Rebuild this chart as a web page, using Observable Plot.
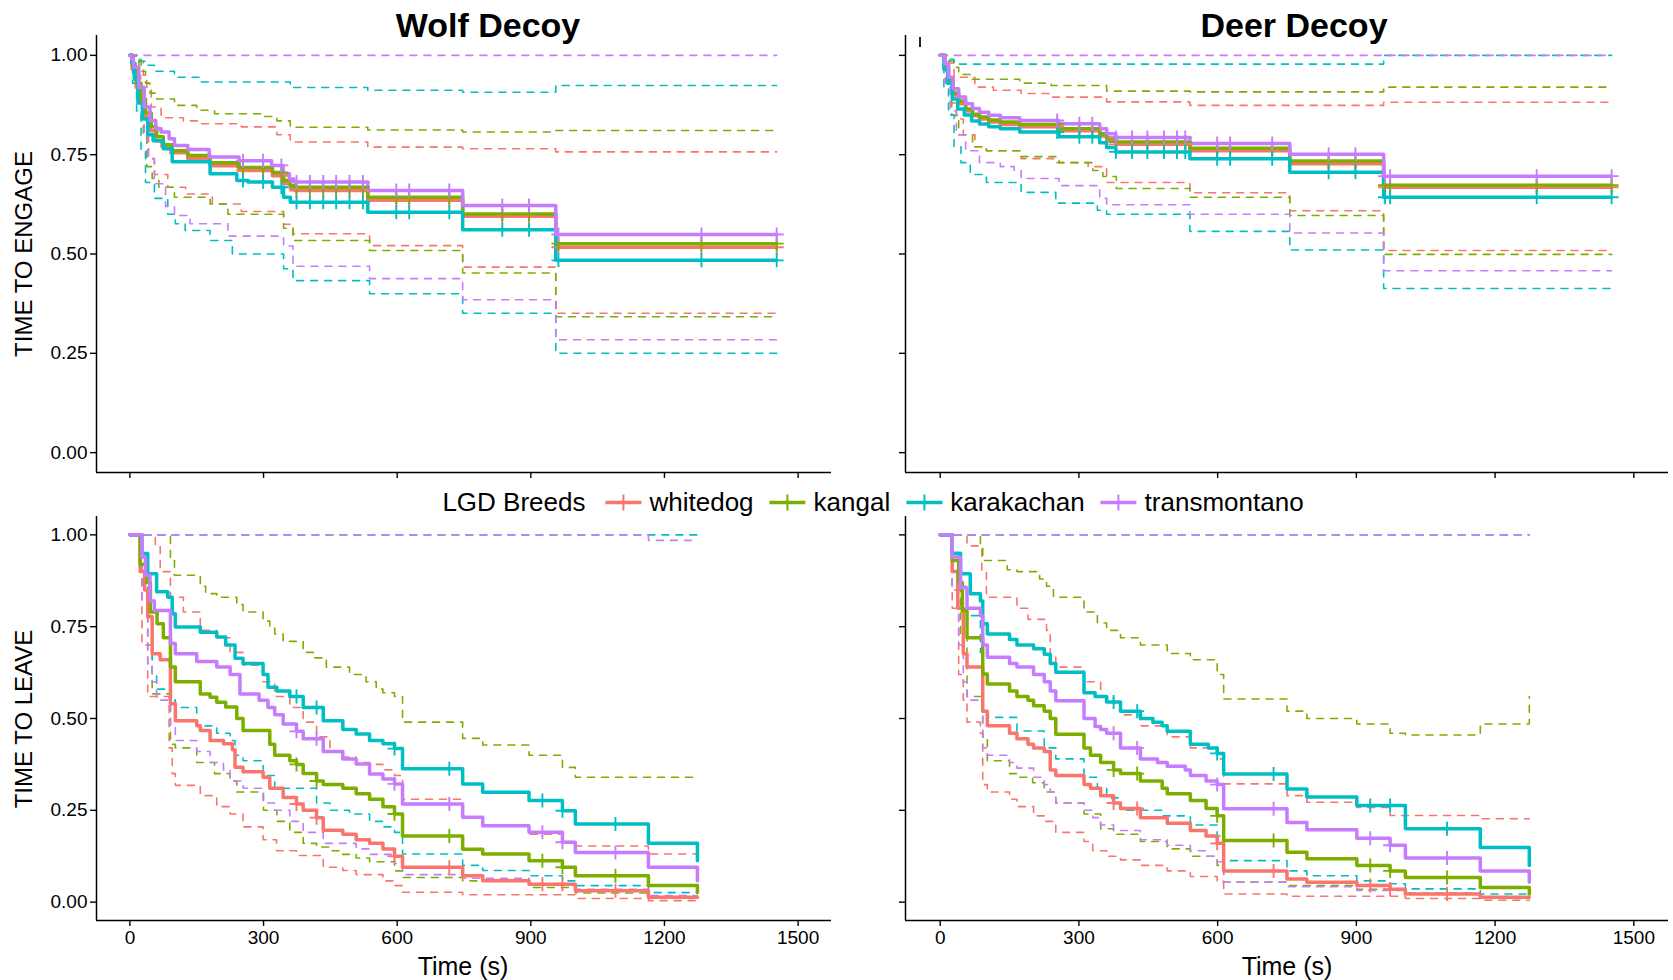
<!DOCTYPE html>
<html><head><meta charset="utf-8">
<script src="https://cdn.jsdelivr.net/npm/d3@7"></script>
<script src="https://cdn.jsdelivr.net/npm/@observablehq/plot@0.6"></script>
<style>
body{margin:0;background:#fff;}
#root{position:relative;width:1673px;height:980px;font-family:"Liberation Sans",Arial,sans-serif;color:#000;overflow:hidden;background:#fff;}
.t{position:absolute;transform:translate(-50%,-50%);white-space:nowrap;z-index:5;}
.title{font-weight:bold;font-size:34px;}
.ytitle{font-size:24px;transform:translate(-50%,-50%) rotate(-90deg);}
.xtitle{font-size:25px;}
#legend{position:absolute;left:873px;top:502px;transform:translate(-50%,-50%);display:flex;align-items:center;font-size:26px;white-space:nowrap;z-index:5;}
</style></head>
<body><div id="root"></div>
<script>
// ---------- data ----------
const breeds = ["whitedog","kangal","karakachan","transmontano"];
const breedColors = ["#F8766D","#7CAE00","#00BFC4","#C77CFF"];
const xTicks = [0,300,600,900,1200,1500];
const yTicks = [0,0.25,0.5,0.75,1];
const panelTitles = ["Wolf Decoy","Deer Decoy"];
const rowTitles = ["TIME TO ENGAGE","TIME TO LEAVE"];
const xTitle = "Time (s)";
const legendTitle = "LGD Breeds";
const engageEnd = 1452;
const leaveEnd = 1274;

// Wolf decoy, time to engage
const we_white = [[0,1],[5,0.965],[14,0.92],[24,0.88],[34,0.845],[46,0.81],[58,0.785],[72,0.77],[92,0.755],[130,0.74],[180,0.722],[245,0.71],[320,0.697],[345,0.677],[360,0.665],[370,0.66],[534,0.635],[747,0.595],[956,0.517]];
const we_kangal = [[0,1],[6,0.97],[15,0.93],[25,0.89],[35,0.855],[48,0.82],[60,0.795],[75,0.775],[95,0.76],[130,0.748],[180,0.73],[245,0.718],[320,0.705],[345,0.685],[360,0.672],[370,0.668],[534,0.643],[747,0.601],[956,0.526]];
const we_karak = [[0,1],[4,0.98],[10,0.94],[18,0.88],[28,0.84],[40,0.8],[52,0.785],[75,0.765],[95,0.732],[180,0.702],[240,0.685],[265,0.681],[320,0.668],[345,0.643],[360,0.63],[534,0.605],[747,0.561],[956,0.484]];
const we_trans = [[0,1],[4,0.99],[8,0.97],[20,0.92],[32,0.87],[45,0.836],[58,0.815],[70,0.807],[88,0.79],[100,0.773],[130,0.763],[178,0.744],[245,0.735],[318,0.723],[344,0.702],[358,0.689],[368,0.681],[534,0.66],[747,0.622],[956,0.549]];
const we_white_hi = [[0,1],[20,0.985],[30,0.95],[38,0.915],[48,0.87],[70,0.843],[120,0.835],[160,0.828],[250,0.82],[330,0.8],[360,0.782],[534,0.769],[747,0.765],[956,0.757]];
const we_kangal_hi = [[0,1],[15,0.99],[25,0.96],[35,0.93],[45,0.905],[60,0.89],[100,0.874],[150,0.862],[190,0.853],[300,0.846],[330,0.835],[360,0.819],[534,0.812],[747,0.807],[956,0.811]];
const we_karak_hi = [[0,1],[20,0.985],[35,0.975],[55,0.96],[100,0.945],[160,0.933],[360,0.919],[534,0.912],[747,0.907],[956,0.924]];
const we_trans_hi = [[0,1]];
const we_white_lo = [[0,1],[14,0.95],[24,0.88],[32,0.8],[42,0.74],[55,0.7],[85,0.668],[125,0.651],[185,0.626],[250,0.607],[345,0.575],[366,0.551],[538,0.521],[747,0.467],[956,0.351]];
const we_kangal_lo = [[0,1],[20,0.9],[30,0.8],[38,0.72],[50,0.69],[65,0.668],[100,0.643],[180,0.626],[220,0.6],[345,0.565],[366,0.534],[538,0.509],[747,0.452],[956,0.342]];
const we_karak_lo = [[0,1],[6,0.93],[15,0.86],[25,0.76],[35,0.68],[55,0.64],[85,0.6],[102,0.576],[124,0.559],[180,0.534],[230,0.5],[345,0.463],[366,0.433],[538,0.4],[747,0.351],[956,0.25]];
const we_trans_lo = [[0,1],[10,0.95],[22,0.88],[32,0.8],[40,0.74],[55,0.677],[80,0.62],[100,0.597],[135,0.576],[220,0.545],[345,0.52],[366,0.469],[538,0.438],[747,0.385],[956,0.284]];
const we_censor = [254,299,340,374,404,434,463,493,523,598,627,717,836,896,962,1283,1452];

// Deer decoy, time to engage
const de_white = [[0,1],[10,0.97],[18,0.935],[28,0.9],[40,0.878],[55,0.86],[70,0.848],[85,0.84],[105,0.832],[130,0.826],[172,0.82],[257,0.81],[345,0.797],[360,0.786],[380,0.776],[540,0.76],[756,0.727],[959,0.668]];
const de_kangal = [[0,1],[10,0.975],[18,0.94],[28,0.905],[40,0.885],[55,0.865],[70,0.852],[85,0.845],[105,0.837],[130,0.832],[172,0.826],[257,0.815],[345,0.803],[360,0.792],[380,0.782],[540,0.766],[756,0.734],[959,0.673]];
const de_karak = [[0,1],[8,0.965],[16,0.93],[26,0.89],[38,0.865],[52,0.85],[68,0.835],[85,0.827],[105,0.82],[130,0.815],[172,0.807],[257,0.795],[345,0.78],[360,0.768],[380,0.757],[540,0.74],[756,0.706],[959,0.643]];
const de_trans = [[0,1],[10,0.979],[18,0.945],[28,0.916],[40,0.895],[55,0.878],[70,0.866],[85,0.857],[105,0.849],[130,0.843],[172,0.836],[257,0.828],[345,0.815],[360,0.803],[380,0.793],[540,0.778],[756,0.751],[959,0.696]];
const de_white_hi = [[0,1],[20,0.98],[30,0.945],[75,0.92],[115,0.912],[175,0.904],[240,0.895],[360,0.883],[540,0.874],[959,0.882]];
const de_kangal_hi = [[0,1],[18,0.985],[30,0.97],[40,0.952],[70,0.94],[172,0.93],[240,0.924],[360,0.91],[540,0.908],[959,0.92]];
const de_karak_hi = [[0,1],[15,0.99],[30,0.978],[959,1]];
const de_trans_hi = [[0,1]];
const de_white_lo = [[0,1],[12,0.93],[22,0.88],[35,0.84],[50,0.8],[75,0.77],[100,0.76],[175,0.74],[245,0.73],[320,0.72],[360,0.68],[540,0.654],[756,0.609],[959,0.509]];
const de_kangal_lo = [[0,1],[15,0.92],[25,0.85],[40,0.8],[70,0.77],[100,0.76],[172,0.745],[257,0.73],[330,0.71],[352,0.695],[381,0.665],[540,0.643],[756,0.597],[959,0.499]];
const de_karak_lo = [[0,1],[8,0.92],[18,0.85],[30,0.77],[45,0.73],[65,0.7],[100,0.68],[175,0.655],[250,0.628],[340,0.61],[360,0.6],[540,0.557],[756,0.51],[959,0.413]];
const de_trans_lo = [[0,1],[10,0.93],[22,0.86],[35,0.8],[55,0.76],[85,0.73],[130,0.72],[160,0.71],[175,0.69],[257,0.672],[345,0.64],[360,0.624],[540,0.6],[756,0.553],[959,0.458]];
const de_censor = [253,301,329,380,415,448,484,512,530,599,627,718,840,898,962,973,1290,1452];

// Wolf decoy, time to leave
const wl_white = [[0,1],[23,0.9],[33,0.85],[40,0.777],[50,0.676],[68,0.66],[91,0.54],[102,0.494],[150,0.48],[158,0.467],[180,0.44],[210,0.431],[230,0.415],[236,0.367],[254,0.355],[299,0.34],[314,0.31],[344,0.285],[374,0.267],[389,0.25],[419,0.23],[434,0.196],[478,0.185],[508,0.17],[538,0.16],[568,0.145],[594,0.125],[612,0.095],[747,0.072],[792,0.058],[896,0.049],[1000,0.031],[1164,0.013]];
const wl_kangal = [[0,1],[23,0.92],[38,0.87],[46,0.79],[61,0.758],[75,0.72],[91,0.64],[102,0.6],[158,0.567],[180,0.558],[195,0.544],[215,0.531],[240,0.5],[254,0.467],[314,0.43],[325,0.4],[359,0.385],[374,0.375],[389,0.35],[419,0.33],[434,0.32],[478,0.31],[508,0.295],[538,0.28],[568,0.26],[594,0.24],[612,0.18],[747,0.144],[792,0.131],[896,0.113],[971,0.095],[1000,0.072],[1164,0.045],[1274,0.026]];
const wl_karak = [[0,1],[27,0.949],[40,0.894],[60,0.845],[85,0.83],[95,0.785],[102,0.749],[158,0.735],[195,0.722],[215,0.7],[236,0.664],[254,0.65],[299,0.62],[310,0.585],[330,0.575],[359,0.56],[389,0.53],[434,0.494],[478,0.47],[508,0.458],[538,0.44],[568,0.431],[594,0.418],[612,0.363],[747,0.322],[792,0.299],[896,0.277],[971,0.249],[1000,0.213],[1164,0.16],[1274,0.113]];
const wl_trans = [[0,1],[27,0.94],[35,0.89],[45,0.82],[55,0.794],[91,0.704],[102,0.676],[150,0.655],[195,0.64],[225,0.62],[247,0.567],[290,0.55],[310,0.53],[325,0.51],[344,0.485],[374,0.465],[389,0.445],[434,0.41],[478,0.39],[508,0.376],[538,0.349],[568,0.335],[594,0.322],[612,0.267],[747,0.231],[792,0.208],[896,0.19],[971,0.163],[1000,0.135],[1164,0.095],[1274,0.058]];
const wl_white_hi = [[0,1],[57,0.97],[68,0.9],[91,0.83],[120,0.79],[158,0.74],[195,0.72],[225,0.68],[254,0.645],[299,0.6],[325,0.56],[359,0.53],[389,0.49],[419,0.45],[449,0.41],[478,0.395],[508,0.38],[538,0.375],[568,0.36],[594,0.345],[612,0.28],[747,0.231],[792,0.208],[896,0.185],[971,0.165],[1000,0.153],[1164,0.131]];
const wl_kangal_hi = [[0,1],[91,0.93],[100,0.89],[158,0.86],[170,0.84],[195,0.83],[240,0.81],[254,0.79],[299,0.765],[314,0.75],[325,0.73],[344,0.71],[389,0.68],[412,0.665],[441,0.64],[493,0.62],[530,0.6],[553,0.58],[568,0.57],[594,0.56],[612,0.49],[747,0.446],[792,0.428],[896,0.4],[971,0.367],[1000,0.34]];
const wl_karak_hi = [[0,1]];
const wl_trans_hi = [[0,1],[1164,0.985]];
const wl_white_lo = [[0,1],[27,0.7],[40,0.56],[88,0.42],[95,0.35],[102,0.318],[158,0.29],[195,0.26],[225,0.24],[254,0.205],[299,0.17],[329,0.14],[374,0.127],[434,0.095],[478,0.086],[508,0.075],[568,0.058],[594,0.045],[612,0.027],[747,0.02],[1000,0.01],[1164,0.004]];
const wl_kangal_lo = [[0,1],[27,0.85],[40,0.7],[50,0.567],[91,0.43],[102,0.42],[150,0.38],[190,0.35],[225,0.33],[240,0.3],[300,0.25],[330,0.22],[359,0.19],[389,0.16],[419,0.15],[449,0.14],[478,0.13],[508,0.12],[538,0.11],[594,0.085],[612,0.067],[747,0.058],[896,0.04],[1000,0.025],[1164,0.012]];
const wl_karak_lo = [[0,1],[27,0.9],[40,0.78],[50,0.62],[60,0.58],[91,0.55],[102,0.53],[150,0.48],[195,0.46],[225,0.44],[236,0.4],[254,0.385],[299,0.345],[325,0.31],[419,0.27],[449,0.25],[493,0.24],[538,0.22],[568,0.205],[594,0.19],[612,0.131],[747,0.1],[792,0.086],[896,0.072],[971,0.058],[1000,0.045],[1164,0.026]];
const wl_trans_lo = [[0,1],[27,0.82],[40,0.65],[50,0.6],[60,0.55],[91,0.48],[102,0.44],[150,0.41],[180,0.38],[210,0.36],[225,0.33],[254,0.31],[299,0.27],[325,0.25],[359,0.22],[389,0.19],[434,0.16],[508,0.145],[538,0.13],[594,0.105],[612,0.075],[747,0.065],[896,0.05],[1000,0.035],[1164,0.018]];
const wl_censor = [374,419,594,717,926,971,1090];

// Deer decoy, time to leave
const dl_white = [[0,1],[26,0.9],[38,0.8],[50,0.676],[58,0.64],[92,0.52],[102,0.48],[150,0.46],[166,0.445],[190,0.43],[202,0.42],[225,0.41],[238,0.36],[250,0.345],[311,0.32],[325,0.31],[347,0.29],[375,0.27],[390,0.255],[433,0.23],[491,0.215],[541,0.195],[575,0.18],[599,0.16],[613,0.085],[750,0.063],[793,0.054],[901,0.045],[973,0.035],[1006,0.022],[1168,0.013]];
const dl_kangal = [[0,1],[26,0.93],[40,0.87],[48,0.794],[58,0.72],[92,0.621],[102,0.594],[150,0.575],[166,0.56],[190,0.55],[202,0.535],[225,0.52],[238,0.5],[250,0.457],[311,0.42],[325,0.4],[347,0.38],[375,0.36],[390,0.35],[433,0.33],[480,0.31],[491,0.295],[541,0.277],[575,0.255],[599,0.235],[613,0.168],[750,0.136],[793,0.118],[901,0.1],[973,0.085],[1006,0.067],[1168,0.04],[1274,0.022]];
const dl_karak = [[0,1],[26,0.95],[44,0.894],[65,0.84],[87,0.82],[92,0.758],[102,0.73],[150,0.715],[166,0.7],[202,0.69],[225,0.675],[238,0.65],[250,0.626],[311,0.57],[335,0.56],[360,0.545],[390,0.52],[433,0.5],[460,0.49],[480,0.48],[491,0.465],[541,0.43],[580,0.42],[599,0.405],[613,0.349],[750,0.308],[793,0.286],[901,0.263],[1006,0.2],[1168,0.149],[1274,0.1]];
const dl_trans = [[0,1],[26,0.94],[44,0.856],[58,0.8],[87,0.78],[92,0.7],[102,0.667],[150,0.65],[166,0.64],[202,0.62],[225,0.6],[238,0.575],[250,0.548],[311,0.5],[335,0.478],[347,0.47],[360,0.46],[390,0.42],[433,0.39],[470,0.38],[491,0.37],[530,0.36],[541,0.345],[575,0.33],[599,0.32],[613,0.254],[750,0.217],[793,0.197],[901,0.174],[973,0.155],[1006,0.12],[1168,0.085],[1274,0.054]];
const dl_white_hi = [[0,1],[58,0.97],[90,0.9],[100,0.83],[166,0.8],[190,0.77],[230,0.74],[238,0.67],[250,0.64],[311,0.6],[347,0.56],[375,0.54],[390,0.51],[433,0.48],[491,0.45],[541,0.42],[599,0.39],[613,0.322],[750,0.29],[793,0.272],[901,0.258],[973,0.236],[1168,0.227]];
const dl_kangal_hi = [[0,1],[87,0.97],[92,0.93],[145,0.905],[166,0.9],[215,0.88],[230,0.86],[245,0.83],[311,0.79],[340,0.76],[360,0.74],[390,0.72],[433,0.7],[491,0.677],[541,0.66],[599,0.62],[613,0.553],[750,0.52],[793,0.5],[901,0.485],[973,0.46],[1006,0.455],[1168,0.485],[1274,0.56]];
const dl_karak_hi = [[0,1]];
const dl_trans_hi = [[0,1]];
const dl_white_lo = [[0,1],[26,0.8],[40,0.62],[50,0.55],[58,0.49],[87,0.46],[92,0.32],[102,0.3],[150,0.28],[166,0.26],[202,0.235],[225,0.22],[250,0.19],[311,0.165],[330,0.14],[360,0.125],[390,0.115],[433,0.1],[491,0.085],[541,0.07],[599,0.055],[613,0.022],[750,0.016],[1006,0.01],[1168,0.005]];
const dl_kangal_lo = [[0,1],[26,0.85],[44,0.73],[58,0.56],[92,0.45],[102,0.385],[150,0.35],[166,0.34],[200,0.325],[225,0.3],[250,0.27],[311,0.24],[347,0.2],[375,0.185],[433,0.165],[491,0.145],[541,0.125],[599,0.1],[613,0.055],[750,0.045],[901,0.035],[1006,0.025],[1168,0.012]];
const dl_karak_lo = [[0,1],[26,0.94],[44,0.86],[58,0.78],[87,0.68],[92,0.52],[102,0.503],[166,0.466],[225,0.42],[250,0.39],[311,0.34],[340,0.31],[360,0.284],[390,0.25],[480,0.235],[541,0.21],[599,0.18],[613,0.113],[750,0.085],[793,0.072],[901,0.058],[973,0.05],[1006,0.036],[1168,0.022]];
const dl_trans_lo = [[0,1],[26,0.85],[40,0.7],[50,0.6],[58,0.55],[92,0.42],[102,0.4],[150,0.38],[166,0.365],[202,0.34],[225,0.32],[238,0.3],[250,0.27],[311,0.25],[330,0.23],[347,0.21],[375,0.195],[433,0.17],[491,0.155],[541,0.14],[575,0.125],[599,0.11],[613,0.054],[750,0.042],[901,0.032],[1006,0.022],[1168,0.01]];
const dl_censor = [375,426,599,721,930,973,1096];

// ---------- drawing ----------
const root = document.getElementById("root");
const FONT = "'Liberation Sans', Arial, sans-serif";
const plusSym = {draw(ctx, size){ const r = Math.sqrt(size/Math.PI); ctx.moveTo(0,-r); ctx.lineTo(0,r); ctx.moveTo(-r,0); ctx.lineTo(r,0); }};

function toRows(pairs, tEnd){
  const rows = pairs.map(([t,s]) => ({t, s}));
  const last = rows[rows.length-1];
  if (last.t < tEnd) rows.push({t: tEnd, s: last.s});
  return rows;
}
function survAt(pairs, t){ let s = pairs[0][1]; for (const [ti, si] of pairs) if (ti <= t) s = si; return s; }

function panel(p){
  const marks = [];
  breeds.forEach((b, i) => {
    for (const ci of [p.hi[i], p.lo[i]]) {
      marks.push(Plot.line(toRows(ci, p.tEnd), {x:"t", y:"s", curve:"step-after", stroke:breedColors[i], strokeWidth:1.6, strokeDasharray:"7,7"}));
    }
  });
  breeds.forEach((b, i) => {
    marks.push(Plot.line(toRows(p.surv[i], p.tEnd), {x:"t", y:"s", curve:"step-after", stroke:breedColors[i], strokeWidth:3.5}));
  });
  breeds.forEach((b, i) => {
    marks.push(Plot.dot(p.censor.map(t => ({t, s: survAt(p.surv[i], t)})), {x:"t", y:"s", symbol:plusSym, r:7, fill:"none", stroke:breedColors[i], strokeWidth:1.9}));
  });
  marks.push(Plot.ruleX([-75], {stroke:"#000", strokeWidth:1.5}));
  marks.push(Plot.ruleY([-0.05], {stroke:"#000", strokeWidth:1.5}));
  marks.push(Plot.axisY({ticks:yTicks, tickSize:6, tickPadding:3, strokeWidth:1.4, stroke:"#000", fill:"#000", label:null,
    tickFormat: p.yLabels ? d3.format(".2f") : () => ""}));
  marks.push(Plot.axisX({ticks:xTicks, tickSize:6, tickPadding:4, strokeWidth:1.4, stroke:"#000", fill:"#000", label:null,
    tickFormat: p.xLabels ? (d => String(d)) : () => ""}));
  const svg = Plot.plot({
    width:p.width, height:p.height,
    marginLeft:p.mL, marginRight:p.mR, marginTop:p.mT, marginBottom:p.mB,
    x:{domain:[-75,1575]}, y:{domain:[-0.05,1.05]},
    style:{fontSize:"19px", fontFamily:FONT, background:"transparent", overflow:"visible", color:"#000"},
    marks
  });
  svg.style.position = "absolute";
  svg.style.left = p.left + "px";
  svg.style.top = p.top + "px";
  svg.style.maxWidth = "none";
  root.appendChild(svg);
}

const topGeom = {top:0, height:490, mT:35, mB:18};
const botGeom = {top:490, height:490, mT:26, mB:60};
const leftGeom = {left:0, width:845, mL:96, mR:14, yLabels:true};
const rightGeom = {left:845, width:828, mL:60, mR:5, yLabels:false};

panel({...topGeom, ...leftGeom, xLabels:false, tEnd:engageEnd, censor:we_censor,
  surv:[we_white,we_kangal,we_karak,we_trans], hi:[we_white_hi,we_kangal_hi,we_karak_hi,we_trans_hi], lo:[we_white_lo,we_kangal_lo,we_karak_lo,we_trans_lo]});
panel({...topGeom, ...rightGeom, xLabels:false, tEnd:engageEnd, censor:de_censor,
  surv:[de_white,de_kangal,de_karak,de_trans], hi:[de_white_hi,de_kangal_hi,de_karak_hi,de_trans_hi], lo:[de_white_lo,de_kangal_lo,de_karak_lo,de_trans_lo]});
panel({...botGeom, ...leftGeom, xLabels:true, tEnd:leaveEnd, censor:wl_censor,
  surv:[wl_white,wl_kangal,wl_karak,wl_trans], hi:[wl_white_hi,wl_kangal_hi,wl_karak_hi,wl_trans_hi], lo:[wl_white_lo,wl_kangal_lo,wl_karak_lo,wl_trans_lo]});
panel({...botGeom, ...rightGeom, xLabels:true, tEnd:leaveEnd, censor:dl_censor,
  surv:[dl_white,dl_kangal,dl_karak,dl_trans], hi:[dl_white_hi,dl_kangal_hi,dl_karak_hi,dl_trans_hi], lo:[dl_white_lo,dl_kangal_lo,dl_karak_lo,dl_trans_lo]});

function label(text, cls, x, y){
  const d = document.createElement("div");
  d.className = "t " + cls;
  d.textContent = text;
  d.style.left = x + "px"; d.style.top = y + "px";
  root.appendChild(d);
}
label(panelTitles[0], "title", 488, 25);
label(panelTitles[1], "title", 1294, 25);
label(rowTitles[0], "ytitle", 24, 254);
label(rowTitles[1], "ytitle", 24, 719);
label(xTitle, "xtitle", 463, 966);
label(xTitle, "xtitle", 1287, 966);

// small stray tick at the top of the Deer Decoy panel
const stray = document.createElement("div");
stray.style.cssText = "position:absolute;left:919px;top:37px;width:1.5px;height:10px;background:#222;z-index:5;";
root.appendChild(stray);

// legend
const lg = document.createElement("div");
lg.id = "legend";
const lt = document.createElement("span");
lt.textContent = legendTitle;
lt.style.marginRight = "18px";
lg.appendChild(lt);
breeds.forEach((b, i) => {
  const ns = "http://www.w3.org/2000/svg";
  const k = document.createElementNS(ns, "svg");
  k.setAttribute("width", 40); k.setAttribute("height", 22);
  k.style.marginRight = "6px";
  const l1 = document.createElementNS(ns, "line");
  l1.setAttribute("x1", 2); l1.setAttribute("x2", 38); l1.setAttribute("y1", 11); l1.setAttribute("y2", 11);
  l1.setAttribute("stroke", breedColors[i]); l1.setAttribute("stroke-width", 3.5);
  const l2 = document.createElementNS(ns, "line");
  l2.setAttribute("x1", 20); l2.setAttribute("x2", 20); l2.setAttribute("y1", 3); l2.setAttribute("y2", 19);
  l2.setAttribute("stroke", breedColors[i]); l2.setAttribute("stroke-width", 2);
  k.appendChild(l1); k.appendChild(l2);
  lg.appendChild(k);
  const s = document.createElement("span");
  s.textContent = b;
  if (i < breeds.length - 1) s.style.marginRight = "14px";
  lg.appendChild(s);
});
root.appendChild(lg);
</script>
</body></html>
